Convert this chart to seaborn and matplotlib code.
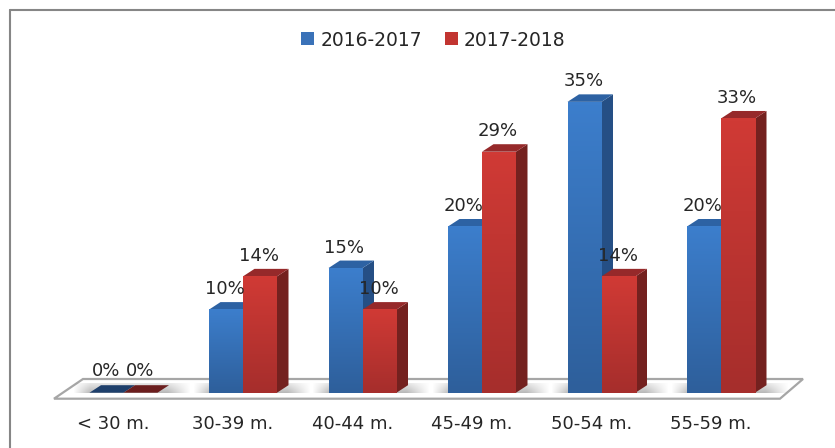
import numpy as np
import pandas as pd
import seaborn as sns
import matplotlib
matplotlib.use("Agg")
import matplotlib.pyplot as plt
from matplotlib.colors import LinearSegmentedColormap
from matplotlib.lines import Line2D
from matplotlib.patches import Polygon
from matplotlib.transforms import ScaledTranslation

categories = ["< 30 m.", "30-39 m.", "40-44 m.", "45-49 m.", "50-54 m.", "55-59 m."]
series_names = ["2016-2017", "2017-2018"]
values_2016 = [0, 10, 15, 20, 35, 20]
values_2017 = [0, 14, 10, 29, 14, 33]

W, H = 835, 448
BASE_PX, PX_PER_UNIT = 392.7, 8.31
X0_PX, PX_PER_CAT = 123.5, 119.5
AX_BOTTOM_PX = 400
DX, DY = 11.5 / PX_PER_CAT, 7.5 / PX_PER_UNIT

front_colors = [("#3C7ECC", "#2E5F9B"), ("#D03A35", "#A62E2C")]
side_colors = ["#254F85", "#74211F"]
top_colors = ["#2D62A3", "#96292A"]
zero_colors = ["#1E3F6B", "#6B1E1E"]

sns.set_theme(style="white")
plt.rcParams["font.family"] = ["DejaVu Sans"]
TEXT = "#262626"

df = pd.DataFrame({
    "cat": categories * 2,
    "period": [series_names[0]] * 6 + [series_names[1]] * 6,
    "value": values_2016 + values_2017,
})

fig = plt.figure(figsize=(W / 100, H / 100), dpi=100)
ax = fig.add_axes([0, 1 - AX_BOTTOM_PX / H, 1, AX_BOTTOM_PX / H])
ax.patch.set_alpha(0)

sns.barplot(data=df, x="cat", y="value", hue="period", ax=ax, width=68 / PX_PER_CAT,
            gap=0, saturation=1, palette=["#3A72B8", "#C23531"], dodge=True, linewidth=0)

xlim = (-X0_PX / PX_PER_CAT, (W - X0_PX) / PX_PER_CAT)
ylim = (-(AX_BOTTOM_PX - BASE_PX) / PX_PER_UNIT, BASE_PX / PX_PER_UNIT)

# floor
fl_y0, fl_y1 = -(398.7 - BASE_PX) / PX_PER_UNIT, (BASE_PX - 379) / PX_PER_UNIT
fl_x = lambda p: (p - X0_PX) / PX_PER_CAT
ax.add_patch(Polygon([(fl_x(54), fl_y0), (fl_x(780), fl_y0), (fl_x(803), fl_y1), (fl_x(83), fl_y1)],
                     closed=True, fc="white", ec="#A6A6A6", lw=1.6, zorder=1, clip_on=False))

# soft floor shadow around each group, fading sideways and towards the back
n_x, n_y = 100, 16
sx = np.linspace(-0.42, 0.56, n_x)
alpha_x = np.interp(sx, [-0.42, -0.28, 0.37, 0.56], [0, 0.55, 0.55, 0])
alpha_y = np.linspace(0.35, 1, n_y)[:, None]
shadow = np.ones((n_y, n_x, 4)) * 0.5
shadow[..., 3] = alpha_x[None, :] * alpha_y
for i in range(len(categories)):
    ax.imshow(shadow, extent=(i - 0.42, i + 0.56, 0, DY + 0.25),
              aspect="auto", zorder=1.5, interpolation="bilinear")

# 3D faces built from the seaborn bars
for s, cont in enumerate(ax.containers):
    z = 3 + s
    for bar in cont:
        x, w, h = bar.get_x(), bar.get_width(), bar.get_height()
        if h == 0:
            ax.add_patch(Polygon([(x, 0), (x + w, 0), (x + w + DX, DY), (x + DX, DY)],
                                 closed=True, fc=zero_colors[s], ec="none", zorder=z))
            bar.set_visible(False)
            continue
        ax.add_patch(Polygon([(x + w, 0), (x + w + DX, DY), (x + w + DX, h + DY), (x + w, h)],
                             closed=True, fc=side_colors[s], ec="none", zorder=z))
        ax.add_patch(Polygon([(x, h), (x + w, h), (x + w + DX, h + DY), (x + DX, h + DY)],
                             closed=True, fc=top_colors[s], ec="none", zorder=z))
        bar.set_zorder(z + 0.1)
        cmap = LinearSegmentedColormap.from_list("f", [front_colors[s][1], front_colors[s][0]])
        ax.imshow(np.linspace(1, 0, 64)[:, None], extent=(x, x + w, 0, h), cmap=cmap,
                  vmin=0, vmax=1, aspect="auto", zorder=z + 0.2, interpolation="bilinear")

# data labels
for s, cont in enumerate(ax.containers):
    for bar, val in zip(cont, [values_2016, values_2017][s]):
        cx = bar.get_x() + bar.get_width() / 2
        off = (-0.5, 16.5) if val == 0 else (-1, 15.5)
        ax.annotate(f"{val}%", (cx, val), xytext=off, textcoords="offset pixels",
                    ha="center", va="baseline", fontsize=13, color=TEXT, zorder=10)

ax.set_xlim(xlim)
ax.set_ylim(ylim)
ax.set_xlabel("")
ax.set_ylabel("")
ax.set_yticks([])
ax.set_xticks(range(len(categories)), categories)
ax.tick_params(axis="x", length=0, pad=10.8, labelsize=13, labelcolor=TEXT)
shift = ScaledTranslation(-10 / 100, 0, fig.dpi_scale_trans)
for lab in ax.get_xticklabels():
    lab.set_transform(lab.get_transform() + shift)
sns.despine(ax=ax, left=True, bottom=True, top=True, right=True)

handles, labels = ax.get_legend_handles_labels()
ax.legend(handles, labels, ncol=2, frameon=False, fontsize=13.5, labelcolor=TEXT,
          loc="center", bbox_to_anchor=(433.5 / W, 1 - 40 / AX_BOTTOM_PX),
          handlelength=0.68, handleheight=0.68, handletextpad=0.32, columnspacing=1.25,
          borderpad=0, borderaxespad=0)

# chart frame
for xs, ys in [((9.5, 9.5), (10, H)), ((9.5, W), (10, 10))]:
    fig.add_artist(Line2D([p / W for p in xs], [1 - p / H for p in ys], color="#868686", lw=1.5))

fig.savefig("out.png", dpi=100, facecolor="white")
